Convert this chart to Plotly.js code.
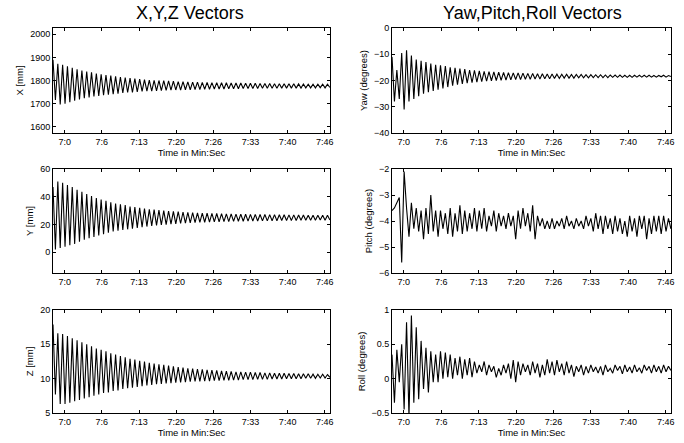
<!DOCTYPE html>
<html>
<head>
<meta charset="utf-8">
<script src="https://cdn.plot.ly/plotly-3.0.1.min.js"></script>
<style>html,body{margin:0;padding:0;background:#fff;}#chart{width:684px;height:443px;}</style>
</head>
<body>
<div id="chart"></div>
<script>
// Time sampling grid (seconds from 0:00); one sample per half-cycle extremum
const T_START = 417.9;
const T_STEP = 0.432;
const N = 116;

const tickSeconds = [420, 426.667, 433.333, 440, 446.667, 453.333, 460, 466.667];
const tickLabels = ['7:0', '7:6', '7:13', '7:20', '7:26', '7:33', '7:40', '7:46'];

const xMM = [1890,1716,1872,1696,1868,1700,1861,1706,1855,1713,1849,1718,1843,1723,1839,1727,1835,1731,1830,1733,
1827,1736,1824,1739,1821,1741,1818,1743,1815,1746,1813,1748,1810,1749,1808,1751,1806,1753,1804,1754,
1802,1754,1801,1755,1800,1756,1799,1757,1798,1758,1797,1759,1795,1759,1795,1760,1794,1760,1793,1761,
1793,1761,1792,1762,1792,1762,1791,1763,1791,1763,1790,1763,1790,1764,1789,1764,1789,1764,1789,1765,
1788,1765,1788,1765,1788,1765,1787,1766,1787,1766,1787,1766,1786,1766,1786,1767,1786,1767,1786,1767,
1786,1767,1785,1767,1785,1768,1784,1768,1784,1768,1784,1769,1784,1768,1784,1770];

const yMM = [47,2,51,3,50,4,48.5,5,47,6,45,7.5,43.5,9,42,10,40.5,11,39,12,
38,13,37,14,36,15,35,15.5,34.5,16,34,16.5,33,17,32.5,17.5,32,18,31.5,18.5,
31,19,30.7,19.3,30.3,19.6,30,19.9,29.7,20.2,29.5,20.4,29.2,20.7,29,20.9,28.8,21.1,28.6,21.3,
28.4,21.5,28.2,21.6,28.1,21.7,28,21.8,27.9,21.9,27.8,22,27.7,22.1,27.6,22.2,27.5,22.3,27.5,22.3,
27.4,22.4,27.3,22.5,27.3,22.5,27.2,22.6,27.2,22.6,27.1,22.7,27.1,22.7,27,22.8,27,22.8,26.9,22.9,
26.9,22.9,26.8,23,26.8,23,26.7,23.1,26.7,23.1,26.6,23.2,26.7,23.1,26.6,23.3];

const zMM = [17.9,7.7,16.6,6.3,16.5,6.3,16.2,6.5,15.9,6.7,15.6,6.9,15.3,7.1,15.0,7.3,14.7,7.5,14.4,7.7,
14.2,7.9,14.0,8.0,13.7,8.2,13.5,8.3,13.3,8.5,13.1,8.6,12.9,8.7,12.8,8.8,12.6,8.9,12.5,9.0,
12.3,9.1,12.2,9.2,12.1,9.25,12.0,9.3,11.9,9.35,11.8,9.4,11.7,9.45,11.6,9.5,11.5,9.55,11.45,9.6,
11.4,9.6,11.35,9.65,11.3,9.65,11.25,9.7,11.2,9.7,11.15,9.75,11.1,9.75,11.05,9.8,11.0,9.8,11.0,9.85,
10.95,9.85,10.95,9.85,10.9,9.9,10.9,9.9,10.85,9.9,10.85,9.95,10.8,9.95,10.8,9.95,10.8,10.0,10.75,10.0,
10.75,10.0,10.7,10.0,10.7,10.05,10.7,10.05,10.65,10.05,10.65,10.1,10.65,10.1,10.6,10.2];

const yawDeg = [-11,-28,-16,-27,-9.5,-31,-8.5,-28,-10.5,-27,-12,-26,-12.5,-25,-13,-24.5,-13.5,-24,-14,-23.5,
-14.2,-23,-14.5,-22.5,-15,-22,-15.2,-21.6,-15.5,-21.3,-15.7,-21,-16,-20.8,-16.1,-20.6,-16.3,-20.4,-16.5,-20.2,
-16.6,-20.1,-16.7,-20,-16.8,-19.9,-16.9,-19.8,-17,-19.7,-17.1,-19.6,-17.1,-19.6,-17.2,-19.5,-17.3,-19.5,-17.3,-19.4,
-17.4,-19.4,-17.4,-19.3,-17.5,-19.3,-17.5,-19.2,-17.6,-19.2,-17.6,-19.1,-17.6,-19.1,-17.7,-19.1,-17.7,-19.0,-17.7,-19.0,
-17.8,-19.0,-17.8,-18.9,-17.8,-18.9,-17.8,-18.9,-17.9,-18.9,-17.9,-18.8,-17.9,-18.8,-17.9,-18.8,-18.0,-18.8,-18.0,-18.8,
-18.0,-18.7,-18.0,-18.7,-18.0,-18.7,-18.0,-18.7,-18.1,-18.7,-18.1,-18.6,-18.0,-18.7,-18.1,-18.5];

const pitchDeg = [-3.6,-3.5,-3.3,-3.1,-5.6,-2.1,-3.5,-4.6,-3.3,-4.3,-3.5,-4.4,-3.6,-4.7,-3.5,-4.5,-3.0,-4.4,-3.6,-4.6,
-3.6,-4.3,-3.7,-4.5,-3.5,-4.6,-3.7,-4.4,-3.4,-4.5,-3.6,-4.4,-3.7,-4.3,-3.5,-4.4,-3.6,-4.3,-3.5,-4.4,
-3.8,-4.2,-3.6,-4.4,-3.7,-4.2,-3.8,-4.3,-3.7,-4.2,-3.8,-4.7,-3.6,-4.3,-3.5,-4.2,-3.7,-4.4,-3.4,-4.7,
-3.8,-4.2,-3.9,-4.3,-4.0,-4.3,-3.9,-4.3,-4.0,-4.2,-3.9,-4.3,-3.8,-4.2,-4.0,-4.3,-3.9,-4.2,-4.0,-4.3,
-3.8,-4.2,-3.9,-4.4,-3.7,-4.3,-3.8,-4.5,-3.8,-4.3,-3.9,-4.5,-3.8,-4.4,-3.9,-4.5,-4.0,-4.6,-3.8,-4.4,
-3.9,-4.6,-3.8,-4.3,-3.8,-4.7,-3.9,-4.5,-3.8,-4.4,-3.8,-4.5,-3.8,-4.4,-3.9,-4.3];

const rollDeg = [0.35,-0.35,0.42,-0.05,0.5,-0.45,0.82,-0.55,0.92,-0.35,0.75,-0.3,0.55,-0.15,0.45,-0.2,0.4,-0.05,0.35,-0.05,
0.4,0.0,0.38,0.02,0.35,0.0,0.3,0.05,0.32,0.0,0.28,0.05,0.3,0.02,0.25,0.08,0.2,0.1,0.25,0.05,
0.2,0.1,0.18,0.02,0.15,0.05,0.2,0.08,0.22,0.0,0.27,-0.05,0.25,0.05,0.22,0.1,0.2,0.05,0.25,0.08,
0.22,0.02,0.2,0.05,0.28,0.08,0.25,0.05,0.27,0.1,0.22,0.05,0.25,0.08,0.2,0.03,0.18,0.1,0.2,0.05,
0.18,0.08,0.2,0.1,0.17,0.08,0.18,0.05,0.2,0.1,0.15,0.08,0.2,0.12,0.18,0.07,0.2,0.1,0.17,0.08,
0.2,0.1,0.16,0.08,0.2,0.12,0.18,0.08,0.2,0.1,0.18,0.08,0.2,0.1,0.18,0.12];

const timeSec = [];
for (let i = 0; i < N; i++) timeSec.push(T_START + T_STEP * i);

const panels = [
  {y: xMM, name: 'X [mm]', range: [1573, 2027], tickvals: [1600,1700,1800,1900,2000]},
  {y: yawDeg, name: 'Yaw (degrees)', range: [-40, 0], tickvals: [-40,-30,-20,-10,0]},
  {y: yMM, name: 'Y [mm]', range: [-15, 60], tickvals: [0,20,40,60]},
  {y: pitchDeg, name: 'Pitch (degrees)', range: [-6, -2], tickvals: [-6,-5,-4,-3,-2]},
  {y: zMM, name: 'Z [mm]', range: [5, 20], tickvals: [5,10,15,20]},
  {y: rollDeg, name: 'Roll (degrees)', range: [-0.5, 1], tickvals: [-0.5,0,0.5,1]}
];

const W = 684, H = 443;
const colX = [[53, 330], [392, 671]];
const rowY = [[28, 133], [169, 273], [310, 413]];
const FONT = 'Liberation Sans, Arial, Helvetica, sans-serif';

const traces = [];
const layout = {
  width: W, height: H,
  margin: {l: 0, r: 0, t: 0, b: 0},
  paper_bgcolor: '#fff', plot_bgcolor: '#fff',
  showlegend: false,
  font: {family: FONT, color: '#000', size: 9},
  annotations: [
    {text: 'X,Y,Z Vectors', x: 190 / W, y: 1 - 13 / H, xref: 'paper', yref: 'paper', xanchor: 'center', yanchor: 'middle', showarrow: false, font: {size: 18, family: FONT, color: '#000'}},
    {text: 'Yaw,Pitch,Roll Vectors', x: 532 / W, y: 1 - 13 / H, xref: 'paper', yref: 'paper', xanchor: 'center', yanchor: 'middle', showarrow: false, font: {size: 18, family: FONT, color: '#000'}}
  ]
};

panels.forEach((p, k) => {
  const row = Math.floor(k / 2), col = k % 2;
  const n = k + 1;
  const xa = 'x' + (n === 1 ? '' : n), ya = 'y' + (n === 1 ? '' : n);
  traces.push({x: timeSec, y: p.y, type: 'scatter', mode: 'lines', xaxis: xa, yaxis: ya,
    line: {color: '#000', width: 1.1}, hoverinfo: 'skip'});
  const common = {showline: true, linecolor: '#000', linewidth: 1, mirror: 'ticks', ticks: 'inside',
    ticklen: 3, tickcolor: '#000', showgrid: false, zeroline: false, tickfont: {size: 9, family: FONT, color: '#000'}};
  layout['xaxis' + (n === 1 ? '' : n)] = Object.assign({}, common, {
    domain: [colX[col][0] / W, colX[col][1] / W], anchor: ya, range: [417.9, 467.6],
    tickmode: 'array', tickvals: tickSeconds, ticktext: tickLabels,
    title: row === 1 ? {text: ''} : {text: 'Time in Min:Sec', font: {size: 9.5, family: FONT, color: '#000'}, standoff: 1}
  });
  layout['yaxis' + (n === 1 ? '' : n)] = Object.assign({}, common, {
    domain: [1 - rowY[row][1] / H, 1 - rowY[row][0] / H], anchor: xa, range: p.range,
    tickmode: 'array', tickvals: p.tickvals,
    title: {text: p.name, font: {size: 9.5, family: FONT, color: '#000'}, standoff: 4}
  });
});

Plotly.newPlot('chart', traces, layout, {displayModeBar: false, staticPlot: true});
</script>
</body>
</html>
